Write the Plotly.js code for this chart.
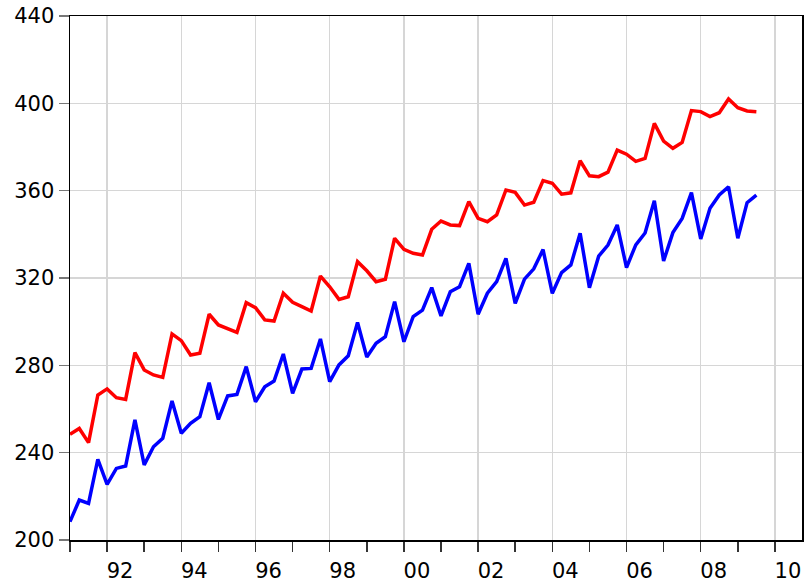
<!DOCTYPE html>
<html>
<head>
<meta charset="utf-8">
<script src="https://cdn.plot.ly/plotly-3.0.1.min.js"></script>
<style>html,body{margin:0;padding:0;background:#fff;}#chart{width:805px;height:584px;}</style>
</head>
<body>
<div id="chart"></div>
<script>
// Quarterly observations, 1991Q1 .. 2009Q3
const startYear = 1991;
const periodsPerYear = 4;

const redSeries = [
  248.4, 251.1, 244.6, 266.4, 269.2, 265.2, 264.4, 285.8,
  277.9, 275.6, 274.5, 294.4, 291.3, 284.7, 285.5, 303.4,
  298.5, 297.0, 295.1, 308.7, 306.4, 300.8, 300.3, 313.0,
  308.9, 306.9, 304.9, 320.9, 316.0, 310.2, 311.4, 327.5,
  323.3, 318.3, 319.4, 338.2, 333.1, 331.3, 330.5, 342.3,
  346.1, 344.3, 344.0, 355.0, 347.3, 345.8, 348.9, 360.3,
  359.2, 353.4, 354.7, 364.6, 363.4, 358.4, 359.0, 373.7,
  366.8, 366.4, 368.5, 378.6, 376.7, 373.4, 374.8, 390.8,
  382.7, 379.4, 382.1, 396.7, 396.2, 393.9, 395.7, 402.0,
  398.0, 396.5, 396.2
];

const blueSeries = [
  208.4, 218.3, 216.8, 236.9, 225.5, 232.8, 233.9, 255.0,
  234.4, 242.7, 246.6, 263.7, 248.9, 253.4, 256.5, 272.0,
  255.2, 266.0, 266.7, 279.4, 263.3, 270.2, 272.8, 285.2,
  267.2, 278.3, 278.6, 292.1, 272.5, 280.2, 284.4, 299.6,
  283.8, 290.1, 293.1, 309.2, 290.8, 302.3, 305.3, 315.6,
  302.6, 313.7, 316.0, 326.7, 303.4, 313.0, 318.3, 329.0,
  308.4, 319.5, 324.2, 333.0, 313.0, 322.5, 326.0, 340.5,
  315.5, 330.0, 335.1, 344.3, 324.8, 335.2, 340.6, 355.4,
  327.8, 340.8, 347.3, 359.1, 337.9, 351.9, 358.0, 361.8,
  338.2, 354.5, 358.0
];

const yTickVals = [200, 240, 280, 320, 360, 400, 440];
const xTickYears = [1992, 1994, 1996, 1998, 2000, 2002, 2004, 2006, 2008, 2010];
const xTickLabels = ["92", "94", "96", "98", "00", "02", "04", "06", "08", "10"];

const periods = redSeries.map((_, i) => startYear + i / periodsPerYear);

const font = {family: "DejaVu Sans, Liberation Sans, Arial, sans-serif", size: 21, color: "#000"};

const traces = [
  {x: periods, y: redSeries, type: "scatter", mode: "lines", name: "Series 1",
   line: {color: "#ff0000", width: 3.5}},
  {x: periods, y: blueSeries, type: "scatter", mode: "lines", name: "Series 2",
   line: {color: "#0000ff", width: 3.5}}
];

const layout = {
  width: 805, height: 584,
  margin: {l: 70, r: 3, t: 16, b: 44},
  paper_bgcolor: "#fff", plot_bgcolor: "#fff",
  showlegend: false,
  font: font,
  xaxis: {
    range: [1991, 2010.73],
    tickmode: "array", tickvals: xTickYears, ticktext: xTickLabels,
    ticks: "outside", ticklen: 10, tickwidth: 1.5, tickcolor: "#333",
    ticklabelshift: 13, ticklabelstandoff: 1,
    showgrid: true, gridcolor: "#d6d6d6", gridwidth: 1.5,
    minor: {dtick: 1, tick0: 1991, ticks: "outside", ticklen: 10, tickwidth: 1.5, tickcolor: "#333", showgrid: false},
    showline: true, linecolor: "#000", linewidth: 1.5, mirror: true,
    zeroline: false, tickfont: font
  },
  yaxis: {
    range: [200, 440],
    tickmode: "array", tickvals: yTickVals,
    ticks: "outside", ticklen: 10, tickwidth: 1.5, tickcolor: "#777",
    showgrid: true, gridcolor: "#d6d6d6", gridwidth: 1.5,
    showline: true, linecolor: "#000", linewidth: 1.5, mirror: true,
    zeroline: false, tickfont: font
  }
};

Plotly.newPlot("chart", traces, layout, {staticPlot: true, displayModeBar: false});
</script>
</body>
</html>
